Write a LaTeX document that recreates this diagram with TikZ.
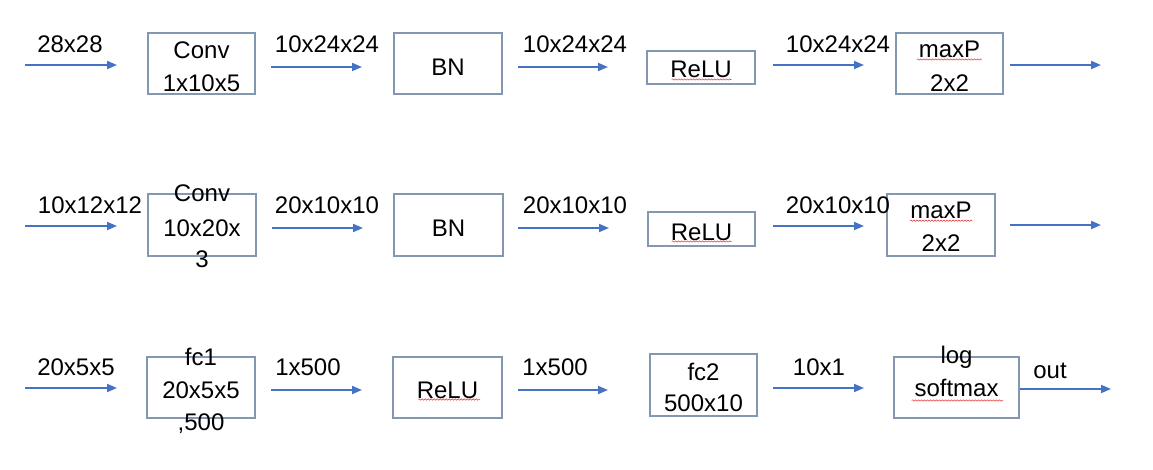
\documentclass[tikz,border=0pt]{standalone}
\usepackage{fontspec}
\setmainfont{Liberation Sans}
\usetikzlibrary{arrows.meta,decorations.pathmorphing}
\definecolor{boxc}{HTML}{8497B0}
\definecolor{arrc}{HTML}{4472C4}
\definecolor{squig}{HTML}{E03030}
\tikzset{
  blk/.style={draw=boxc, line width=1.4pt, inner sep=0pt, minimum width=#1},
  blk/.default=108pt,
  flow/.style={draw=arrc, line width=1.8pt, -{Triangle[length=10pt,width=8pt]}},
  txt/.style={anchor=base, inner sep=0pt, font=\fontsize{24}{32}\selectfont},
  wavy/.style={draw=squig, line width=0.5pt, decorate, decoration={snake, amplitude=0.7pt, segment length=3pt}}
}
\begin{document}
\begin{tikzpicture}[x=1pt,y=-1pt]
\useasboundingbox (0,0) rectangle (1153,469);
% ---------- row 1 ----------
\node[blk=107pt, minimum height=61pt] (conv1) at (201.5,63.5) {};
\node[blk, minimum height=61pt] (bn1) at (448,63.5) {};
\node[blk, minimum height=33pt] (relu1) at (701,67.5) {};
\node[blk=107pt, minimum height=61pt] (maxp1) at (949.5,63.5) {};
\coordinate (a1s) at (25,65);  \coordinate (a1e) at (117,65);
\coordinate (a2s) at (271,67); \coordinate (a2e) at (362,67);
\coordinate (a3s) at (518,67); \coordinate (a3e) at (608,67);
\coordinate (a4s) at (773,65); \coordinate (a4e) at (864,65);
\coordinate (a5s) at (1010,65); \coordinate (a5e) at (1101,65);
\draw[flow] (a1s) -- (a1e);
\draw[flow] (a2s) -- (a2e);
\draw[flow] (a3s) -- (a3e);
\draw[flow] (a4s) -- (a4e);
\draw[flow] (a5s) -- (a5e);
\node[txt] (l11) at (70,52.3) {28x28};
\node[txt] (l12) at (327,52.3) {10x24x24};
\node[txt] (l13) at (575,52.3) {10x24x24};
\node[txt] (l14) at (838,52.3) {10x24x24};
\node[txt] (t11a) at (conv1.center |- 0,58.3) {Conv};
\node[txt] (t11b) at (conv1.center |- 0,91.7) {1x10x5};
\node[txt] (t12) at (bn1.center |- 0,75) {BN};
\node[txt] (t13) at (relu1.center |- 0,77.3) {ReLU};
\node[txt] (t14a) at (maxp1.center |- 0,57.3) {maxP};
\node[txt] (t14b) at (maxp1.center |- 0,91) {2x2};
% ---------- row 2 ----------
\node[blk, minimum height=62pt] (conv2) at (202,225) {};
\node[blk=109pt, minimum height=62pt] (bn2) at (448.5,225) {};
\node[blk=107pt, minimum height=34pt] (relu2) at (701.5,229) {};
\node[blk, minimum height=62pt] (maxp2) at (941,225) {};
\coordinate (b1s) at (25,226);  \coordinate (b1e) at (117,226);
\coordinate (b2s) at (272,228); \coordinate (b2e) at (363,228);
\coordinate (b3s) at (518,228); \coordinate (b3e) at (609,228);
\coordinate (b4s) at (773,226); \coordinate (b4e) at (864,226);
\coordinate (b5s) at (1010,225); \coordinate (b5e) at (1101,225);
\draw[flow] (b1s) -- (b1e);
\draw[flow] (b2s) -- (b2e);
\draw[flow] (b3s) -- (b3e);
\draw[flow] (b4s) -- (b4e);
\draw[flow] (b5s) -- (b5e);
\node[txt] (l21) at (90,213) {10x12x12};
\node[txt] (l22) at (327,213) {20x10x10};
\node[txt] (l23) at (575,213) {20x10x10};
\node[txt] (l24) at (838,213) {20x10x10};
\node[txt] (t21a) at (conv2.center |- 0,201.7) {Conv};
\node[txt] (t21b) at (conv2.center |- 0,236.7) {10x20x};
\node[txt] (t21c) at (conv2.center |- 0,267) {3};
\node[txt] (t22) at (bn2.center |- 0,236) {BN};
\node[txt] (t23) at (relu2.center |- 0,240) {ReLU};
\node[txt] (t24a) at (maxp2.center |- 0,218.3) {maxP};
\node[txt] (t24b) at (maxp2.center |- 0,251.7) {2x2};
% ---------- row 3 ----------
\node[blk, minimum height=61pt] (fc1) at (201,387.5) {};
\node[blk=109pt, minimum height=61pt] (relu3) at (447.5,387.5) {};
\node[blk=107pt, minimum height=62pt] (fc2) at (703.5,385) {};
\node[blk=125pt, minimum height=61pt] (lsm) at (956.5,387.5) {};
\coordinate (c1s) at (25,388);  \coordinate (c1e) at (117,388);
\coordinate (c2s) at (271,390); \coordinate (c2e) at (362,390);
\coordinate (c3s) at (518,390); \coordinate (c3e) at (608,390);
\coordinate (c4s) at (773,388); \coordinate (c4e) at (864,388);
\coordinate (c5e) at (1111,389);
\draw[flow] (c1s) -- (c1e);
\draw[flow] (c2s) -- (c2e);
\draw[flow] (c3s) -- (c3e);
\draw[flow] (c4s) -- (c4e);
\draw[flow] (lsm.east |- c5e) -- (c5e);
\node[txt] (l31) at (76,375.7) {20x5x5};
\node[txt] (l32) at (308,375.7) {1x500};
\node[txt] (l33) at (555,375.7) {1x500};
\node[txt] (l34) at (819,375.7) {10x1};
\node[txt] (l35) at (1050,378) {out};
\node[txt] (t31a) at (fc1.center |- 0,365) {fc1};
\node[txt] (t31b) at (fc1.center |- 0,398.3) {20x5x5};
\node[txt] (t31c) at (fc1.center |- 0,430) {,500};
\node[txt] (t32) at (relu3.center |- 0,398.3) {ReLU};
\node[txt] (t33a) at (fc2.center |- 0,380) {fc2};
\node[txt] (t33b) at (fc2.center |- 0,411.7) {500x10};
\node[txt] (t34a) at (lsm.center |- 0,363.3) {log};
\node[txt] (t34b) at (lsm.center |- 0,396.7) {softmax};
% ---------- spell-check squiggles ----------
\draw[wavy] (671.7,79.5) -- (731.7,79.5);
\draw[wavy] (916.7,59.5) -- (981.7,59.5);
\draw[wavy] (671.7,241.5) -- (731.7,241.5);
\draw[wavy] (910,220.7) -- (972.3,220.7);
\draw[wavy] (418.3,399.5) -- (480,399.5);
\draw[wavy] (911.7,400.5) -- (1003,400.5);
\end{tikzpicture}
\end{document}
